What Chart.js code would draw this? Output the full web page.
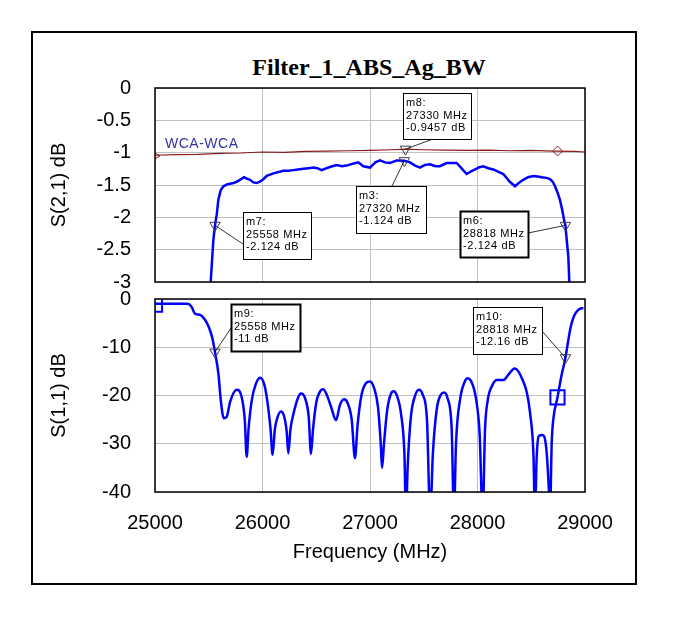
<!DOCTYPE html>
<html>
<head>
<meta charset="utf-8">
<script src="https://cdn.jsdelivr.net/npm/chart.js@4.4.1/dist/chart.umd.min.js"></script>
<style>
body { margin: 0; background: #fff; }
#wrap { position: relative; width: 676px; height: 624px; }
#frame { position: absolute; left: 31px; top: 31px; width: 606px; height: 554px; border: 2px solid #000; box-sizing: border-box; }
#title { position: absolute; left: 0; top: 53px; width: 738px; text-align: center; font: bold 24px "Liberation Serif", "Times New Roman", serif; line-height: 28px; color: #000; }
#top { position: absolute; left: 0; top: 0; }
#bot { position: absolute; left: 0; top: 263px; }
</style>
</head>
<body>
<div id="wrap">
  <div id="frame"></div>
  <div id="title">Filter_1_ABS_Ag_BW</div>
  <canvas id="top" width="676" height="318"></canvas>
  <canvas id="bot" width="676" height="361"></canvas>
</div>
<script>
// ---- data ----
const freqTicks = [25000, 26000, 27000, 28000, 29000];
const s21Ticks = [0, -0.5, -1, -1.5, -2, -2.5, -3];
const s11Ticks = [0, -10, -20, -30, -40];

// S(2,1) measured (blue)
const s21Freq = [25505, 25518, 25543, 25558, 25575, 25589, 25611, 25636, 25670, 25698, 25730, 25760, 25800, 25828, 25855, 25884, 25915, 25946, 25975, 26008,
  26039, 26070, 26101, 26150, 26194, 26240, 26287, 26330, 26380, 26430, 26473, 26510, 26550, 26580, 26612, 26650, 26690, 26740, 26783, 26840,
  26891, 26938, 27000, 27050, 27093, 27140, 27186, 27250, 27320, 27372, 27420, 27465, 27510, 27558, 27610, 27651, 27713, 27760, 27806, 27850,
  27899, 27940, 27977, 28010, 28054, 28100, 28147, 28200, 28240, 28300, 28349, 28390, 28426, 28470, 28519, 28560, 28597, 28640, 28674, 28700,
  28721, 28745, 28767, 28790, 28805, 28818, 28830, 28845, 28854, 28862];
const s21Db = [-3.3, -3.0, -2.35, -2.124, -1.95, -1.73, -1.58, -1.52, -1.49, -1.48, -1.47, -1.45, -1.41, -1.38, -1.40, -1.42, -1.46, -1.47, -1.45, -1.41,
  -1.36, -1.34, -1.32, -1.30, -1.28, -1.28, -1.27, -1.26, -1.25, -1.24, -1.23, -1.24, -1.27, -1.25, -1.23, -1.21, -1.19, -1.21, -1.20, -1.17,
  -1.15, -1.21, -1.23, -1.15, -1.12, -1.15, -1.16, -1.12, -1.124, -1.15, -1.20, -1.23, -1.19, -1.18, -1.21, -1.21, -1.16, -1.16, -1.16, -1.24,
  -1.33, -1.29, -1.26, -1.23, -1.21, -1.24, -1.26, -1.30, -1.33, -1.45, -1.52, -1.46, -1.42, -1.38, -1.36, -1.37, -1.38, -1.39, -1.41, -1.45,
  -1.52, -1.62, -1.73, -1.90, -2.04, -2.124, -2.35, -2.61, -3.0, -3.3];

// WCA-WCA reference trace (dark red)
const wcaFreq = [25000, 25200, 25400, 25600, 25800, 26000, 26200, 26400, 26600, 26800, 27000, 27200, 27330, 27500, 27700, 27900, 28100, 28300, 28500, 28700, 28900, 29000];
const wcaDb = [-1.04, -1.03, -1.025, -1.01, -1.005, -0.99, -0.995, -0.98, -0.975, -0.97, -0.965, -0.955, -0.9457, -0.955, -0.96, -0.965, -0.96, -0.97, -0.965, -0.975, -0.98, -0.99];

// S(1,1) measured (blue)
const s11Freq = [25000, 25300, 25340, 25370, 25420, 25465, 25500, 25530, 25558, 25590, 25612, 25640, 25665, 25700, 25760, 25805, 25835, 25853, 25870, 25900,
  25935, 25977, 26020, 26050, 26075, 26094, 26115, 26140, 26170, 26200, 26225, 26240, 26260, 26290, 26330, 26358, 26395, 26430, 26451, 26470,
  26500, 26540, 26565, 26600, 26640, 26684, 26720, 26758, 26790, 26830, 26860, 26885, 26920, 26960, 27000, 27040, 27075, 27100, 27112, 27130,
  27160, 27200, 27220, 27250, 27290, 27320, 27335, 27350, 27380, 27420, 27455, 27490, 27530, 27560, 27585, 27620, 27660, 27690, 27720, 27760,
  27781, 27800, 27840, 27880, 27905, 27940, 27985, 28020, 28048, 28070, 28095, 28140, 28180, 28240, 28290, 28345, 28380, 28420, 28460, 28490,
  28520, 28535, 28550, 28575, 28605, 28640, 28665, 28674, 28690, 28705, 28744, 28780, 28818, 28845, 28870, 28900, 28935, 28970, 28985];
const s11Db = [-1.0, -1.0, -1.6, -3.0, -3.3, -4.3, -5.8, -7.8, -11.0, -15.5, -21, -24.7, -24.5, -21.2, -18.8, -20.2, -25, -32.7, -27, -21,
  -17.8, -16.3, -18, -22, -27, -32.3, -27, -24.5, -23.3, -24.2, -27.5, -32, -27, -23.6, -20.5, -19.6, -20.5, -24.5, -32.1, -27,
  -21.5, -19, -18.7, -20, -22.5, -25.1, -22, -20.8, -21.5, -25, -33, -26, -20, -17.5, -17.1, -18.6, -22.5, -30, -35, -30,
  -23, -19.4, -19.1, -20, -24, -32, -45, -35, -24.5, -20, -18.8, -19.8, -25, -45, -32, -23, -19.8, -19.4, -20.5, -27,
  -45, -30, -20.5, -17.2, -16.4, -17, -20.5, -28, -45, -27, -21, -17.8, -16.8, -16.8, -15.6, -14.4, -15, -16.8, -19.5, -23.8,
  -32, -45, -33, -28.3, -28.2, -31, -40, -45, -30, -25, -20.4, -16, -12.16, -8.5, -5.5, -3.4, -2.3, -1.9, -1.9];

// markers
const s21MkName = ['m7', 'm3', 'm6'];
const s21MkFreq = [25558, 27320, 28818];
const s21MkDb = [-2.124, -1.124, -2.124];
const wcaMkName = ['m8'];
const wcaMkFreq = [27330];
const wcaMkDb = [-0.9457];
const s11MkName = ['m9', 'm10'];
const s11MkFreq = [25558, 28818];
const s11MkDb = [-11, -12.16];
const wcaDiamondFreq = [28745];
const wcaDiamondDb = [-0.975];
const wcaStartFreq = [25000];
const wcaStartDb = [-1.05];
const s11SquareFreq = [25000, 28744];
const s11SquareDb = [-1.2, -20.4];

// ---- helpers ----
const pts = (xs, ys) => xs.map((x, i) => ({ x: x, y: ys[i] }));
const FONT = '"Liberation Sans", Arial, sans-serif';
const BLUE = '#0000ff';
const DARKRED = '#8b1a1a';

// label box layout (pixels, relative to plot area)
const topBoxes = {
  m7: { dx: 88, dy: 124, w: 68, h: 47, ax: 0, ay: 32 },
  m8: { dx: 248, dy: 5, w: 68, h: 46, ax: 30, ay: 46 },
  m3: { dx: 201, dy: 98, w: 70, h: 47, ax: 36, ay: 0 },
  m6: { dx: 305, dy: 123, w: 68, h: 46, ax: 68, ay: 22, thick: true }
};
const botBoxes = {
  m9: { dx: 76, dy: 5, w: 69, h: 47, ax: 0, ay: 24, thick: true },
  m10: { dx: 318, dy: 8, w: 69, h: 47, ax: 69, ay: 24 }
};

function markerLabels(items, boxes, extra) {
  return {
    id: 'markerLabels',
    afterDatasetsDraw(chart) {
      const { ctx, chartArea: a } = chart;
      ctx.save();
      ctx.strokeStyle = '#000';
      ctx.lineWidth = 1.5;
      ctx.strokeRect(a.left, a.top, a.right - a.left, a.bottom - a.top);
      ctx.restore();
    },
    afterDraw(chart) {
      const { ctx, chartArea: a, scales } = chart;
      ctx.save();
      items.forEach(it => {
        const b = boxes[it.name];
        const px = scales.x.getPixelForValue(it.f);
        const py = scales.y.getPixelForValue(it.db);
        const bx = Math.round(a.left + b.dx), by = Math.round(a.top + b.dy);
        ctx.strokeStyle = '#000';
        ctx.lineWidth = 0.8;
        ctx.beginPath();
        ctx.moveTo(bx + b.ax, by + b.ay);
        ctx.lineTo(px, py);
        ctx.stroke();
        ctx.fillStyle = '#fff';
        ctx.fillRect(bx, by, b.w, b.h);
        ctx.lineWidth = b.thick ? 2 : 1;
        ctx.strokeRect(bx + 0.5, by + 0.5, b.w, b.h);
        ctx.fillStyle = '#000';
        ctx.font = '11px ' + FONT;
        ctx.letterSpacing = '0.6px';
        ctx.textBaseline = 'middle';
        ctx.textAlign = 'left';
        [it.name + ':', it.f + ' MHz', it.db + ' dB'].forEach((t, i) => {
          ctx.fillText(t, bx + 3, by + 10 + i * 12.5);
        });
      });
      if (extra) extra(ctx, a);
      ctx.restore();
    }
  };
}

function yAxis(ticks, title, min, max) {
  return {
    min: min, max: max,
    afterFit: s => { s.width = 155; },
    afterBuildTicks: s => { s.ticks = ticks.map(v => ({ value: v })); },
    grid: { color: '#c0c0c0', lineWidth: 1, drawTicks: false },
    border: { display: false },
    ticks: { padding: 24, color: '#000', font: { family: FONT, size: 20 }, callback: v => String(v) },
    title: { display: true, text: title, color: '#000', font: { family: FONT, size: 20 }, padding: { top: 47, bottom: 0 } }
  };
}

const markerSet = (data, style) => Object.assign({
  data: data, showLine: false, pointStyle: 'triangle', rotation: 180, pointRadius: 6,
  borderColor: '#404040', backgroundColor: 'rgba(0,0,0,0)', borderWidth: 1
}, style);

// ---- top chart: S(2,1) ----
const topItems = [];
s21MkName.forEach((n, i) => topItems.push({ name: n, f: s21MkFreq[i], db: s21MkDb[i] }));
wcaMkName.forEach((n, i) => topItems.push({ name: n, f: wcaMkFreq[i], db: wcaMkDb[i] }));

new Chart(document.getElementById('top'), {
  type: 'line',
  data: {
    datasets: [
      markerSet(pts(s21MkFreq, s21MkDb)),
      markerSet(pts(wcaMkFreq, wcaMkDb)),
      markerSet(pts(wcaDiamondFreq, wcaDiamondDb), { pointStyle: 'rectRot', rotation: 0, pointRadius: 5, borderColor: DARKRED }),
      markerSet(pts(wcaStartFreq, wcaStartDb), { rotation: 90, pointRadius: 5, borderColor: DARKRED }),
      { data: pts(s21Freq, s21Db), borderColor: BLUE, borderWidth: 2.5, pointRadius: 0, tension: 0 },
      { data: pts(wcaFreq, wcaDb), borderColor: DARKRED, borderWidth: 1.2, pointRadius: 0, tension: 0 }
    ]
  },
  options: {
    responsive: false, animation: false, devicePixelRatio: 1,
    layout: { padding: { left: 0, right: 91, top: 88, bottom: 0 } },
    plugins: { legend: { display: false }, tooltip: { enabled: false } },
    scales: {
      x: {
        type: 'linear', min: 25000, max: 29000,
        afterBuildTicks: s => { s.ticks = freqTicks.map(v => ({ value: v })); },
        afterFit: s => { s.height = 0; },
        grid: { color: '#c0c0c0', drawTicks: false },
        border: { display: false },
        ticks: { display: false }
      },
      y: yAxis(s21Ticks, 'S(2,1) dB', -3, 0)
    }
  },
  plugins: [markerLabels(topItems, topBoxes, (ctx, a) => {
    ctx.fillStyle = '#333399';
    ctx.font = '14px ' + FONT;
    ctx.letterSpacing = '0.5px';
    ctx.textBaseline = 'middle';
    ctx.fillText('WCA-WCA', a.left + 10, a.top + 56);
  })]
});

// ---- bottom chart: S(1,1) ----
const botItems = s11MkName.map((n, i) => ({ name: n, f: s11MkFreq[i], db: s11MkDb[i] }));

new Chart(document.getElementById('bot'), {
  type: 'line',
  data: {
    datasets: [
      markerSet(pts(s11MkFreq, s11MkDb)),
      markerSet(pts(s11SquareFreq, s11SquareDb), { pointStyle: 'rect', rotation: 0, pointRadius: 10, borderColor: BLUE, borderWidth: 2, clip: 0 }),
      { data: pts(s11Freq, s11Db), borderColor: BLUE, borderWidth: 2.5, pointRadius: 0, cubicInterpolationMode: 'monotone' }
    ]
  },
  options: {
    responsive: false, animation: false, devicePixelRatio: 1,
    layout: { padding: { left: 0, right: 91, top: 0, bottom: 52 } },
    plugins: { legend: { display: false }, tooltip: { enabled: false } },
    scales: {
      x: {
        type: 'linear', min: 25000, max: 29000,
        afterBuildTicks: s => { s.ticks = freqTicks.map(v => ({ value: v })); },
        afterFit: s => { s.height = 80; },
        grid: { color: '#c0c0c0', drawTicks: false },
        border: { display: false },
        ticks: { padding: 19, color: '#000', maxRotation: 0, font: { family: FONT, size: 20 }, callback: v => String(v) },
        title: { display: true, text: 'Frequency (MHz)', color: '#000', font: { family: FONT, size: 20 }, padding: { top: 0, bottom: 8 } }
      },
      y: yAxis(s11Ticks, 'S(1,1) dB', -40, 0)
    }
  },
  plugins: [markerLabels(botItems, botBoxes)]
});
</script>
</body>
</html>
